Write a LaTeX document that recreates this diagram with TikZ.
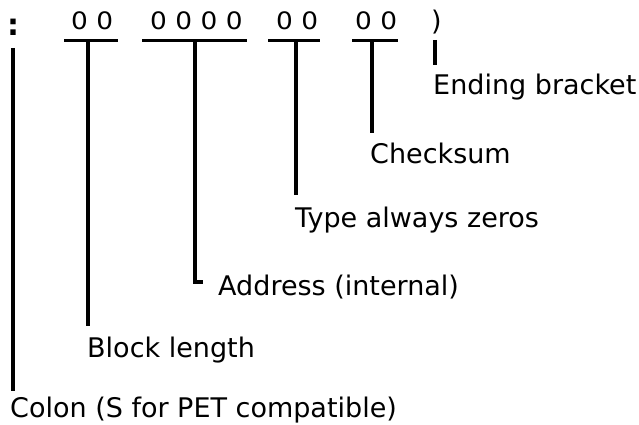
\documentclass[tikz,border=0pt]{standalone}
\usepackage{fontspec}
\setmainfont{DejaVu Sans}
\begin{document}
\begin{tikzpicture}[x=1pt,y=-1pt,
  lbl/.style={anchor=base west, inner sep=0pt, font=\fontsize{27}{30}\selectfont},
  digits/.style={lbl, font=\fontsize{24}{28}\selectfont, xscale=1.1},
  lead/.style={line width=3.2pt},
  bar/.style={line width=3pt}]
\useasboundingbox (0,0) rectangle (639,425);
% record fields
\node[lbl, font=\fontsize{30}{32}\selectfont\bfseries] (colon) at (7,36) {:};
\node[digits] (f1) at (71,30) {0 0};
\node[digits] (f2) at (150,30) {0 0 0 0};
\node[digits] (f3) at (276,30) {0 0};
\node[digits] (f4) at (355,30) {0 0};
\node[lbl] (br) at (431,31) {)};
% underlines
\coordinate (u1) at (88,41);
\coordinate (u2) at (195,41);
\coordinate (u3) at (296,41);
\coordinate (u4) at (372,41);
\draw[bar] (64,41) -- (118,41);
\draw[bar] (142,41) -- (247,41);
\draw[bar] (268,41) -- (320,41);
\draw[bar] (352,41) -- (398,41);
% labels
\node[lbl] (lbr) at (433,95) {Ending bracket};
\node[lbl] (lck) at (370,163) {Checksum};
\node[lbl] (lty) at (295,227) {Type always zeros};
\node[lbl] (lad) at (218,295) {Address (internal)};
\node[lbl] (lbl) at (87,357) {Block length};
\node[lbl] (lco) at (10,417) {Colon (S for PET compatible)};
% leaders
\coordinate (c0) at (13,48);
\coordinate (b0) at (435,40);
\coordinate (acorner) at (195,282);
\draw[lead, shorten >=5pt] (c0) -- (c0 |- lco.north);
\draw[lead, shorten >=10pt] (u1) -- (u1 |- lbl.north);
\draw[lead] (u2) -- (acorner) -- (203,282);
\draw[lead, shorten >=11pt] (u3) -- (u3 |- lty.north);
\draw[lead, shorten >=9pt] (u4) -- (u4 |- lck.north);
\draw[lead, shorten >=9pt] (b0) -- (b0 |- lbr.north);
\end{tikzpicture}
\end{document}
